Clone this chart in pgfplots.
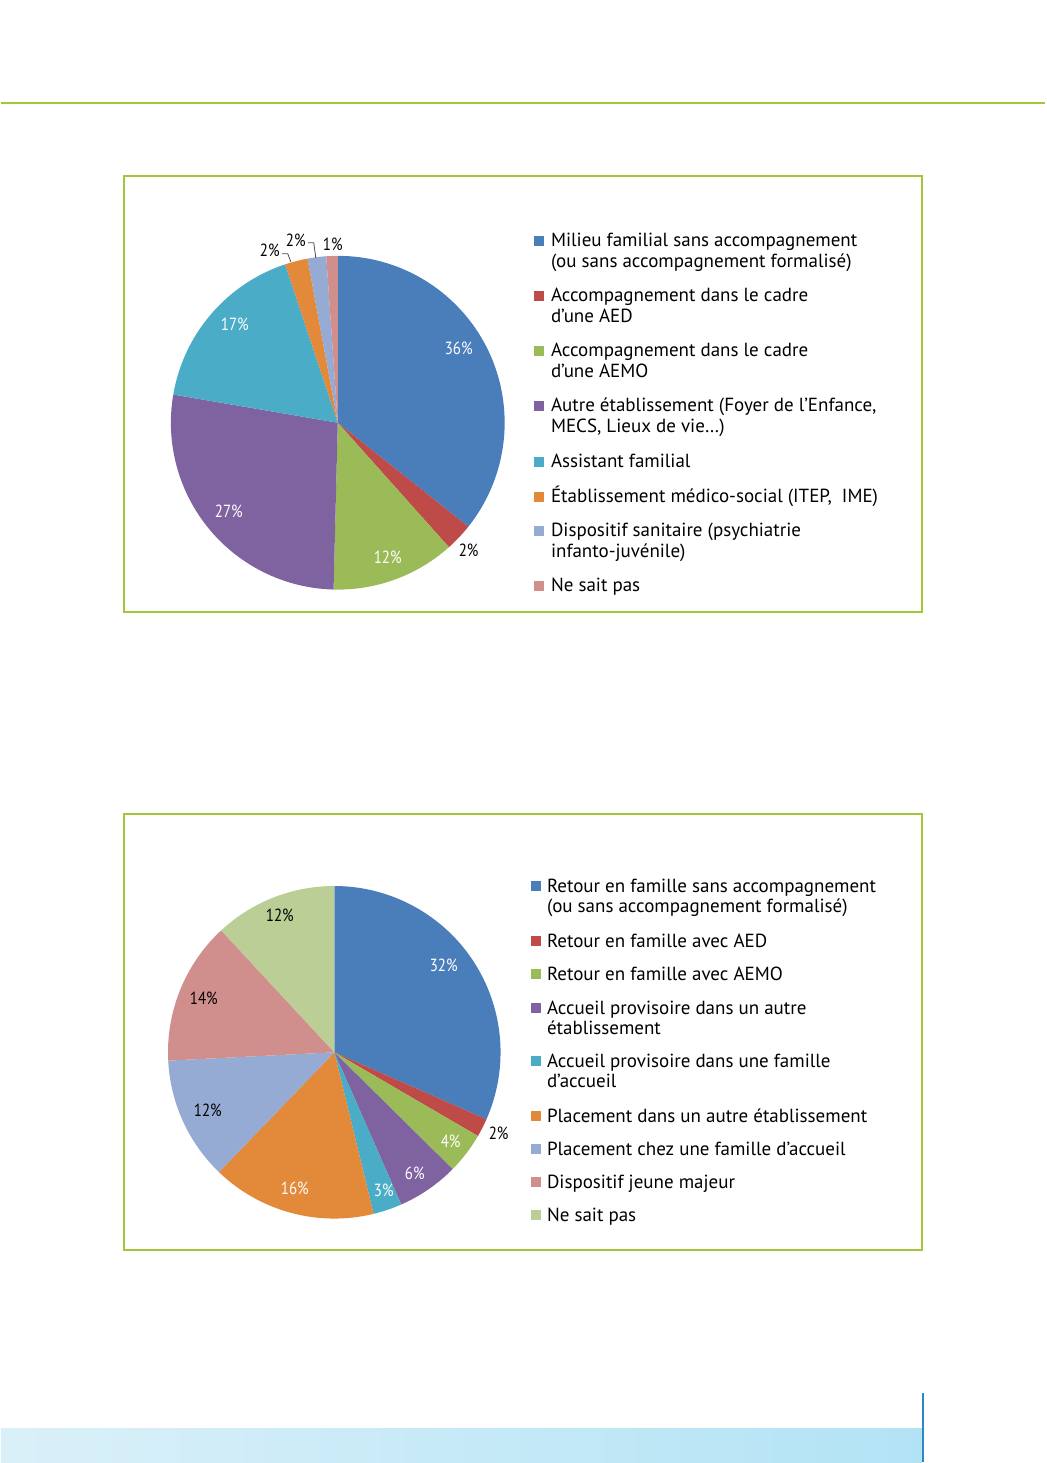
\documentclass[border=0pt]{standalone}
\usepackage{fontspec}
\setmainfont{PT Sans}
\usepackage{pgfplots}
\usepackage{pgfplotstable}
\pgfplotsset{compat=1.18}

\definecolor{frameG}{HTML}{A4C73A}
\definecolor{bandL}{HTML}{DAF0F9}
\definecolor{bandR}{HTML}{B2E3F5}
\definecolor{vline}{HTML}{2A8AC8}
% pie 1 colours
\definecolor{pA0}{HTML}{4A7EBB}
\definecolor{pA1}{HTML}{BE4B48}
\definecolor{pA2}{HTML}{9BBB59}
\definecolor{pA3}{HTML}{7F63A1}
\definecolor{pA4}{HTML}{4AACC6}
\definecolor{pA5}{HTML}{E3893A}
\definecolor{pA6}{HTML}{95ABD4}
\definecolor{pA7}{HTML}{D08F8D}
% pie 2 colours
\colorlet{pB0}{pA0}
\colorlet{pB1}{pA1}
\colorlet{pB2}{pA2}
\colorlet{pB3}{pA3}
\colorlet{pB4}{pA4}
\colorlet{pB5}{pA5}
\colorlet{pB6}{pA6}
\colorlet{pB7}{pA7}
\definecolor{pB8}{HTML}{BBCE95}

\pgfplotstableread{
v
35.7
2.7
12.0
27.3
17.2
2.2
1.8
1.1
}\pieA
\pgfplotstableread{
v
31.6
1.8
4.0
6.0
2.8
16.0
12.0
13.9
11.9
}\pieB

\newcommand\drawpie[5]{% table, cx, cy, colour prefix, radius
  \gdef\cum{0}%
  \pgfplotstableforeachcolumnelement{v}\of#1\as\val{%
    \pgfmathsetmacro\angA{90-3.6*\cum}%
    \pgfmathsetmacro\angB{90-3.6*(\cum+\val)}%
    \edef\tmp{\noexpand\fill[#4\pgfplotstablerow] (axis cs:#2,#3) -- ++(\angA:#5) arc[start angle=\angA, end angle=\angB, radius=#5] -- cycle;}%
    \tmp
    \pgfmathsetmacro\nc{\cum+\val}\xdef\cum{\nc}%
  }}

\newcommand\legfont{\fontsize{9.5}{10.5}\selectfont}
\newcommand\pctfont{\fontsize{8.8}{9}\selectfont}
% legend line: x, baseline y, text
\newcommand\legline[3]{\node[anchor=base west, inner sep=0pt, font=\legfont] at (axis cs:#1,#2) {#3};}
% legend square: x left, baseline y, colour
\newcommand\legsq[3]{\fill[#3] (axis cs:#1,#2-1) rectangle (axis cs:#1+10,#2-11);}
\newcommand\pct[4]{\node[text=#3, inner sep=0pt, font=\pctfont] at (axis cs:#1,#2) {\scalebox{0.85}[1]{#4}};}

\begin{document}
\begin{tikzpicture}
\begin{axis}[
  width=522.5pt, height=731.5pt, scale only axis,
  xmin=0, xmax=1045, ymin=0, ymax=1463, y dir=reverse,
  hide axis, clip=false]

% page extent
\path (axis cs:0,0) rectangle (axis cs:1045,1463);
% page decorations
\draw[frameG, line width=1pt] (axis cs:0,103) -- (axis cs:1045,103);
\draw[frameG, line width=1pt] (axis cs:123,176) rectangle (axis cs:922,612);
\draw[frameG, line width=1pt] (axis cs:123,815) rectangle (axis cs:922,1251);
\shade[left color=bandL, right color=bandR] (axis cs:0,1429) rectangle (axis cs:922,1463);
\draw[vline, line width=1pt] (axis cs:923,1394) -- (axis cs:923,1463);

% ---------- pie 1 ----------
\drawpie{\pieA}{337}{423}{pA}{83.5pt}
\pct{458}{349}{white}{36\%}
\pct{468}{551}{black}{2\%}
\pct{387}{558}{white}{12\%}
\pct{228}{512}{white}{27\%}
\pct{234}{325}{white}{17\%}
\pct{269}{250}{black}{2\%}
\pct{295}{240}{black}{2\%}
\pct{332}{244}{black}{1\%}
\draw[black!70, line width=0.4pt] (axis cs:281,254) -- (axis cs:287,254) -- (axis cs:290,262);
\draw[black!70, line width=0.4pt] (axis cs:307,243) -- (axis cs:313,243) -- (axis cs:315,258);

\legsq{533}{247}{pA0}
\legline{550}{247}{Milieu familial sans accompagnement}
\legline{550}{268}{(ou sans accompagnement formalisé)}
\legsq{533}{302}{pA1}
\legline{550}{302}{Accompagnement dans le cadre}
\legline{550}{323}{d’une AED}
\legsq{533}{357}{pA2}
\legline{550}{357}{Accompagnement dans le cadre}
\legline{550}{378}{d’une AEMO}
\legsq{533}{412}{pA3}
\legline{550}{412}{Autre établissement (Foyer de l’Enfance,}
\legline{550}{433}{MECS, Lieux de vie…)}
\legsq{533}{468}{pA4}
\legline{550}{468}{Assistant familial}
\legsq{533}{503}{pA5}
\legline{550}{503}{Établissement médico-social (ITEP,~~IME)}
\legsq{533}{537}{pA6}
\legline{550}{537}{Dispositif sanitaire (psychiatrie}
\legline{550}{558}{infanto-juvénile)}
\legsq{533}{592}{pA7}
\legline{550}{592}{Ne sait pas}

% ---------- pie 2 ----------
\drawpie{\pieB}{333.5}{1053}{pB}{83.2pt}
\pct{443}{966}{white}{32\%}
\pct{498}{1134}{black}{2\%}
\pct{450}{1142}{white}{4\%}
\pct{414}{1174}{white}{6\%}
\pct{383}{1191}{white}{3\%}
\pct{294}{1189}{white}{16\%}
\pct{207}{1111}{black}{12\%}
\pct{203}{999}{black}{14\%}
\pct{279}{916}{black}{12\%}

\legsq{530}{893}{pB0}
\legline{546}{893}{Retour en famille sans accompagnement}
\legline{546}{913}{(ou sans accompagnement formalisé)}
\legsq{530}{948}{pB1}
\legline{546}{948}{Retour en famille avec AED}
\legsq{530}{981}{pB2}
\legline{546}{981}{Retour en famille avec AEMO}
\legsq{530}{1015}{pB3}
\legline{546}{1015}{Accueil provisoire dans un autre}
\legline{546}{1035}{établissement}
\legsq{530}{1068}{pB4}
\legline{546}{1068}{Accueil provisoire dans une famille}
\legline{546}{1088}{d’accueil}
\legsq{530}{1123}{pB5}
\legline{546}{1123}{Placement dans un autre établissement}
\legsq{530}{1156}{pB6}
\legline{546}{1156}{Placement chez une famille d’accueil}
\legsq{530}{1189}{pB7}
\legline{546}{1189}{Dispositif jeune majeur}
\legsq{530}{1222}{pB8}
\legline{546}{1222}{Ne sait pas}
\end{axis}
\end{tikzpicture}
\end{document}
